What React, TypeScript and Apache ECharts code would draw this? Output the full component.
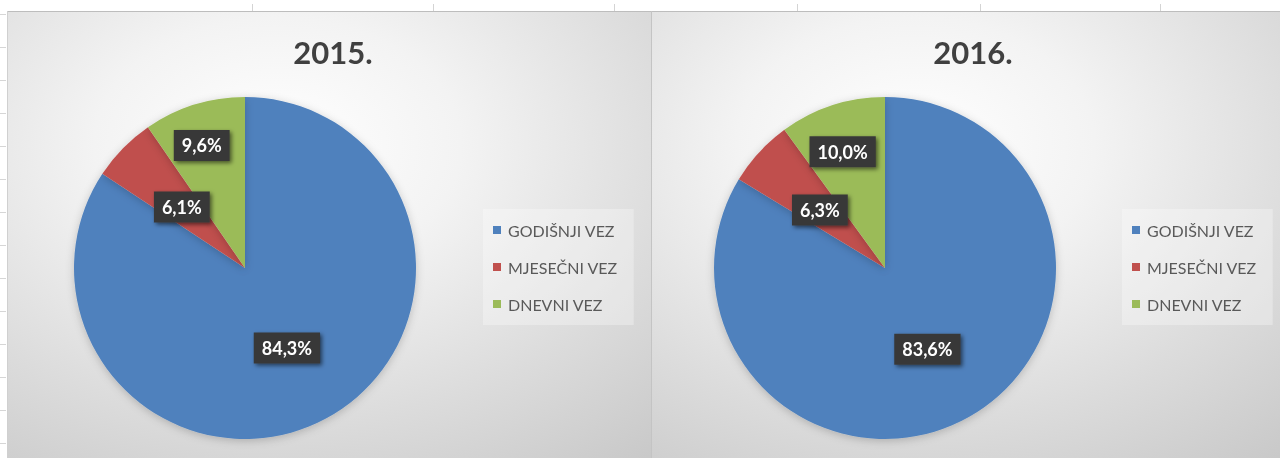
import React, { useEffect, useRef } from "react";
import * as echarts from "echarts";

const categories = ["GODIŠNJI VEZ", "MJESEČNI VEZ", "DNEVNI VEZ"];
const years = ["2015.", "2016."];
const values2015 = [84.3, 6.1, 9.6];
const values2016 = [83.6, 6.3, 10.0];
const sliceColors = ["#4f81bd", "#c0504d", "#9bbb59"];

// layout (not data)
const panels = [
  { x: 7, w: 644, pieX: 245, titleX: 328, legendX: 483 },
  { x: 652, w: 628, pieX: 885, titleX: 968, legendX: 1122 },
];
const labelOffsets = [
  [[0, 2], [0, 1], [-17, -38]],
  [[-1, 4], [0, 2], [-15, -32]],
];

const fmt = (v: number) => v.toFixed(1).replace(".", ",") + "%";

export default function App() {
  const ref = useRef<HTMLDivElement>(null);
  useEffect(() => {
    if (!ref.current) return;
    const chart = echarts.init(ref.current, undefined, { renderer: "svg" });
    const allValues = [values2015, values2016];

    const graphics: any[] = [];
    graphics.push({ type: "rect", z: -20, shape: { x: 0, y: 0, width: 1280, height: 458 }, style: { fill: "#ffffff" } });
    panels.forEach((p) => {
      graphics.push({
        type: "rect",
        z: -10,
        shape: { x: p.x, y: 11, width: p.w, height: 447 },
        style: {
          fill: new echarts.graphic.RadialGradient(0.42, 0.3, 0.95, [
            { offset: 0, color: "#ffffff" },
            { offset: 0.3, color: "#f3f3f3" },
            { offset: 0.65, color: "#dcdcdc" },
            { offset: 1, color: "#c6c6c6" },
          ]),
        },
      });
    });
    graphics.push({ type: "line", z: -5, shape: { x1: 7, y1: 11.5, x2: 1280, y2: 11.5 }, style: { stroke: "#bdbdbd", lineWidth: 1 } });
    graphics.push({ type: "line", z: -5, shape: { x1: 651.5, y1: 11, x2: 651.5, y2: 458 }, style: { stroke: "#c4c4c4", lineWidth: 1 } });
    graphics.push({ type: "line", z: -5, shape: { x1: 7.5, y1: 11, x2: 7.5, y2: 458 }, style: { stroke: "#d0d0d0", lineWidth: 1 } });
    [252, 433, 614, 797, 980, 1160].forEach((x) => {
      graphics.push({ type: "line", z: -5, shape: { x1: x + 0.5, y1: 4, x2: x + 0.5, y2: 11 }, style: { stroke: "#d4d4d4", lineWidth: 1 } });
    });
    for (let y = 14; y < 458; y += 33) {
      graphics.push({ type: "line", z: -5, shape: { x1: 0, y1: y + 0.5, x2: 6, y2: y + 0.5 }, style: { stroke: "#d6d6d6", lineWidth: 1 } });
    }

    const option: any = {
      animation: false,
      color: sliceColors,
      graphic: { elements: graphics },
      title: years.map((t, i) => ({
        text: t,
        left: panels[i].titleX,
        top: 31,
        textAlign: "center",
        textStyle: { fontSize: 31, fontWeight: "bold", color: "#404040", fontFamily: "Lato" },
      })),
      legend: panels.map((p) => ({
        data: categories,
        orient: "vertical",
        left: p.legendX,
        top: 209,
        padding: [13, 16, 13, 10],
        itemGap: 21,
        icon: "rect",
        itemWidth: 8,
        itemHeight: 8,
        backgroundColor: "rgba(255,255,255,0.3)",
        selectedMode: false,
        textStyle: { fontSize: 16, color: "#595959", fontFamily: "Lato", padding: [0, 0, 0, 2] },
      })),
      series: allValues.map((vals, si) => ({
        type: "pie",
        center: [panels[si].pieX, 268],
        radius: 171,
        startAngle: 90,
        clockwise: true,
        silent: true,
        itemStyle: { shadowBlur: 8, shadowColor: "rgba(0,0,0,0.2)", shadowOffsetY: 2 },
        labelLine: { show: false },
        label: {
          show: true,
          position: "inside",
          formatter: (p: any) => fmt(p.value),
          color: "#ffffff",
          fontWeight: "bold",
          fontSize: 18,
          fontFamily: "Lato",
          backgroundColor: "#383838",
          padding: [7, 8, 6, 8],
          shadowBlur: 4,
          shadowColor: "rgba(0,0,0,0.55)",
          shadowOffsetX: 2,
          shadowOffsetY: 2,
        },
        data: categories.map((c, i) => ({
          name: c,
          value: vals[i],
          label: { offset: labelOffsets[si][i] },
        })),
      })),
    };
    chart.setOption(option);
    return () => chart.dispose();
  }, []);
  return <div ref={ref} style={{ position: "fixed", left: 0, top: 0, width: 1280, height: 458 }} />;
}
